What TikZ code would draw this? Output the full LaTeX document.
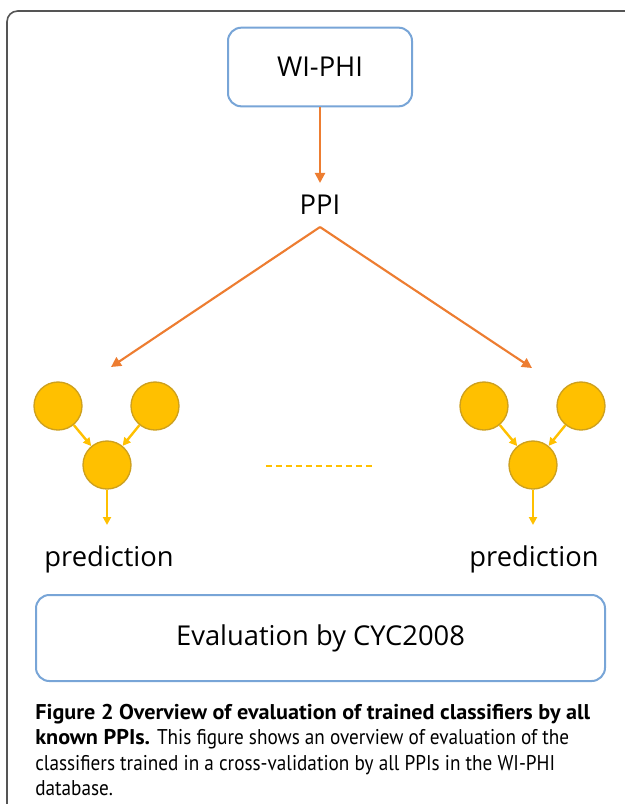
\documentclass[tikz,border=0pt]{standalone}
\usepackage{fontspec}
\setmainfont{Open Sans}
\newfontfamily\capfont[FakeStretch=0.9]{PT Sans}
\newfontfamily\capbold[FakeStretch=1.04]{PT Sans}
\usetikzlibrary{arrows.meta}

\definecolor{boxblue}{RGB}{120,165,215}
\definecolor{arrorange}{RGB}{237,125,49}
\definecolor{gold}{RGB}{255,192,0}
\definecolor{goldline}{RGB}{205,160,30}
\definecolor{framegray}{RGB}{85,85,85}

\begin{document}
\begin{tikzpicture}[x=0.75pt,y=-0.75pt,
  box/.style={draw=boxblue,line width=1.5pt,rounded corners=10pt,font=\fontsize{20.5}{24}\selectfont},
  dot/.style={circle,draw=goldline,fill=gold,line width=1pt,minimum size=36pt,inner sep=0pt},
  lab/.style={font=\fontsize{20.5}{24}\selectfont,inner sep=0pt},
  oarr/.style={-{Triangle[length=7.5pt,width=7.5pt]},draw=arrorange,line width=1.6pt},
  yarr/.style={-{Triangle[length=6pt,width=6pt]},draw=gold,line width=1.8pt},
  dline/.style={draw=gold,line width=2.2pt,dash pattern=on 4.5pt off 3pt}]
\clip (0,0) rectangle (625,804);
\draw[framegray,line width=1.2pt,rounded corners=8pt] (7,11) rectangle (700,900);
% source and split
\node[box,minimum width=138pt,minimum height=59pt] (wiphi) at (320,67) {WI-PHI};
\node[lab,inner sep=9pt] (ppi) at (320,205) {PPI};
\coordinate (lhead) at (111,367);
\coordinate (rhead) at (532,368);
\draw[oarr] (wiphi) -- (ppi);
\draw[oarr] (ppi.south) -- (lhead);
\draw[oarr] (ppi.south) -- (rhead);
% left classifier
\node[dot] (l1) at (58,406) {};
\node[dot] (l2) at (155,406) {};
\node[dot] (l3) at (107,465) {};
\coordinate (lout) at (107,525);
\draw[yarr] (l1) -- (l3);
\draw[yarr] (l2) -- (l3);
\draw[yarr] (l3) -- (lout);
\node[lab,anchor=base] (lpred) at (109,566) {prediction};
% right classifier
\node[dot] (r1) at (484,406) {};
\node[dot] (r2) at (581,406) {};
\node[dot] (r3) at (533,465) {};
\coordinate (rout) at (533,525);
\draw[yarr] (r1) -- (r3);
\draw[yarr] (r2) -- (r3);
\draw[yarr] (r3) -- (rout);
\node[lab,anchor=base] (rpred) at (534,566) {prediction};
% dots in between
\coordinate (dl) at (266,466);
\coordinate (dr) at (374,466);
\draw[dline] (dl) -- (dr);
% evaluation
\node[box,minimum width=426.75pt,minimum height=64.5pt] (eval) at (320.5,638) {Evaluation by CYC2008};
\node[anchor=north west,inner sep=0pt,align=left,font=\capfont\fontsize{16}{19}\selectfont] (cap) at (35,704)
  {{\capbold\bfseries Figure 2 Overview of evaluation of trained classifiers by all}\\
   {\capbold\bfseries known PPIs.} This figure shows an overview of evaluation of the\\
   classifiers trained in a cross-validation by all PPIs in the WI-PHI\\
   database.};
\end{tikzpicture}
\end{document}
